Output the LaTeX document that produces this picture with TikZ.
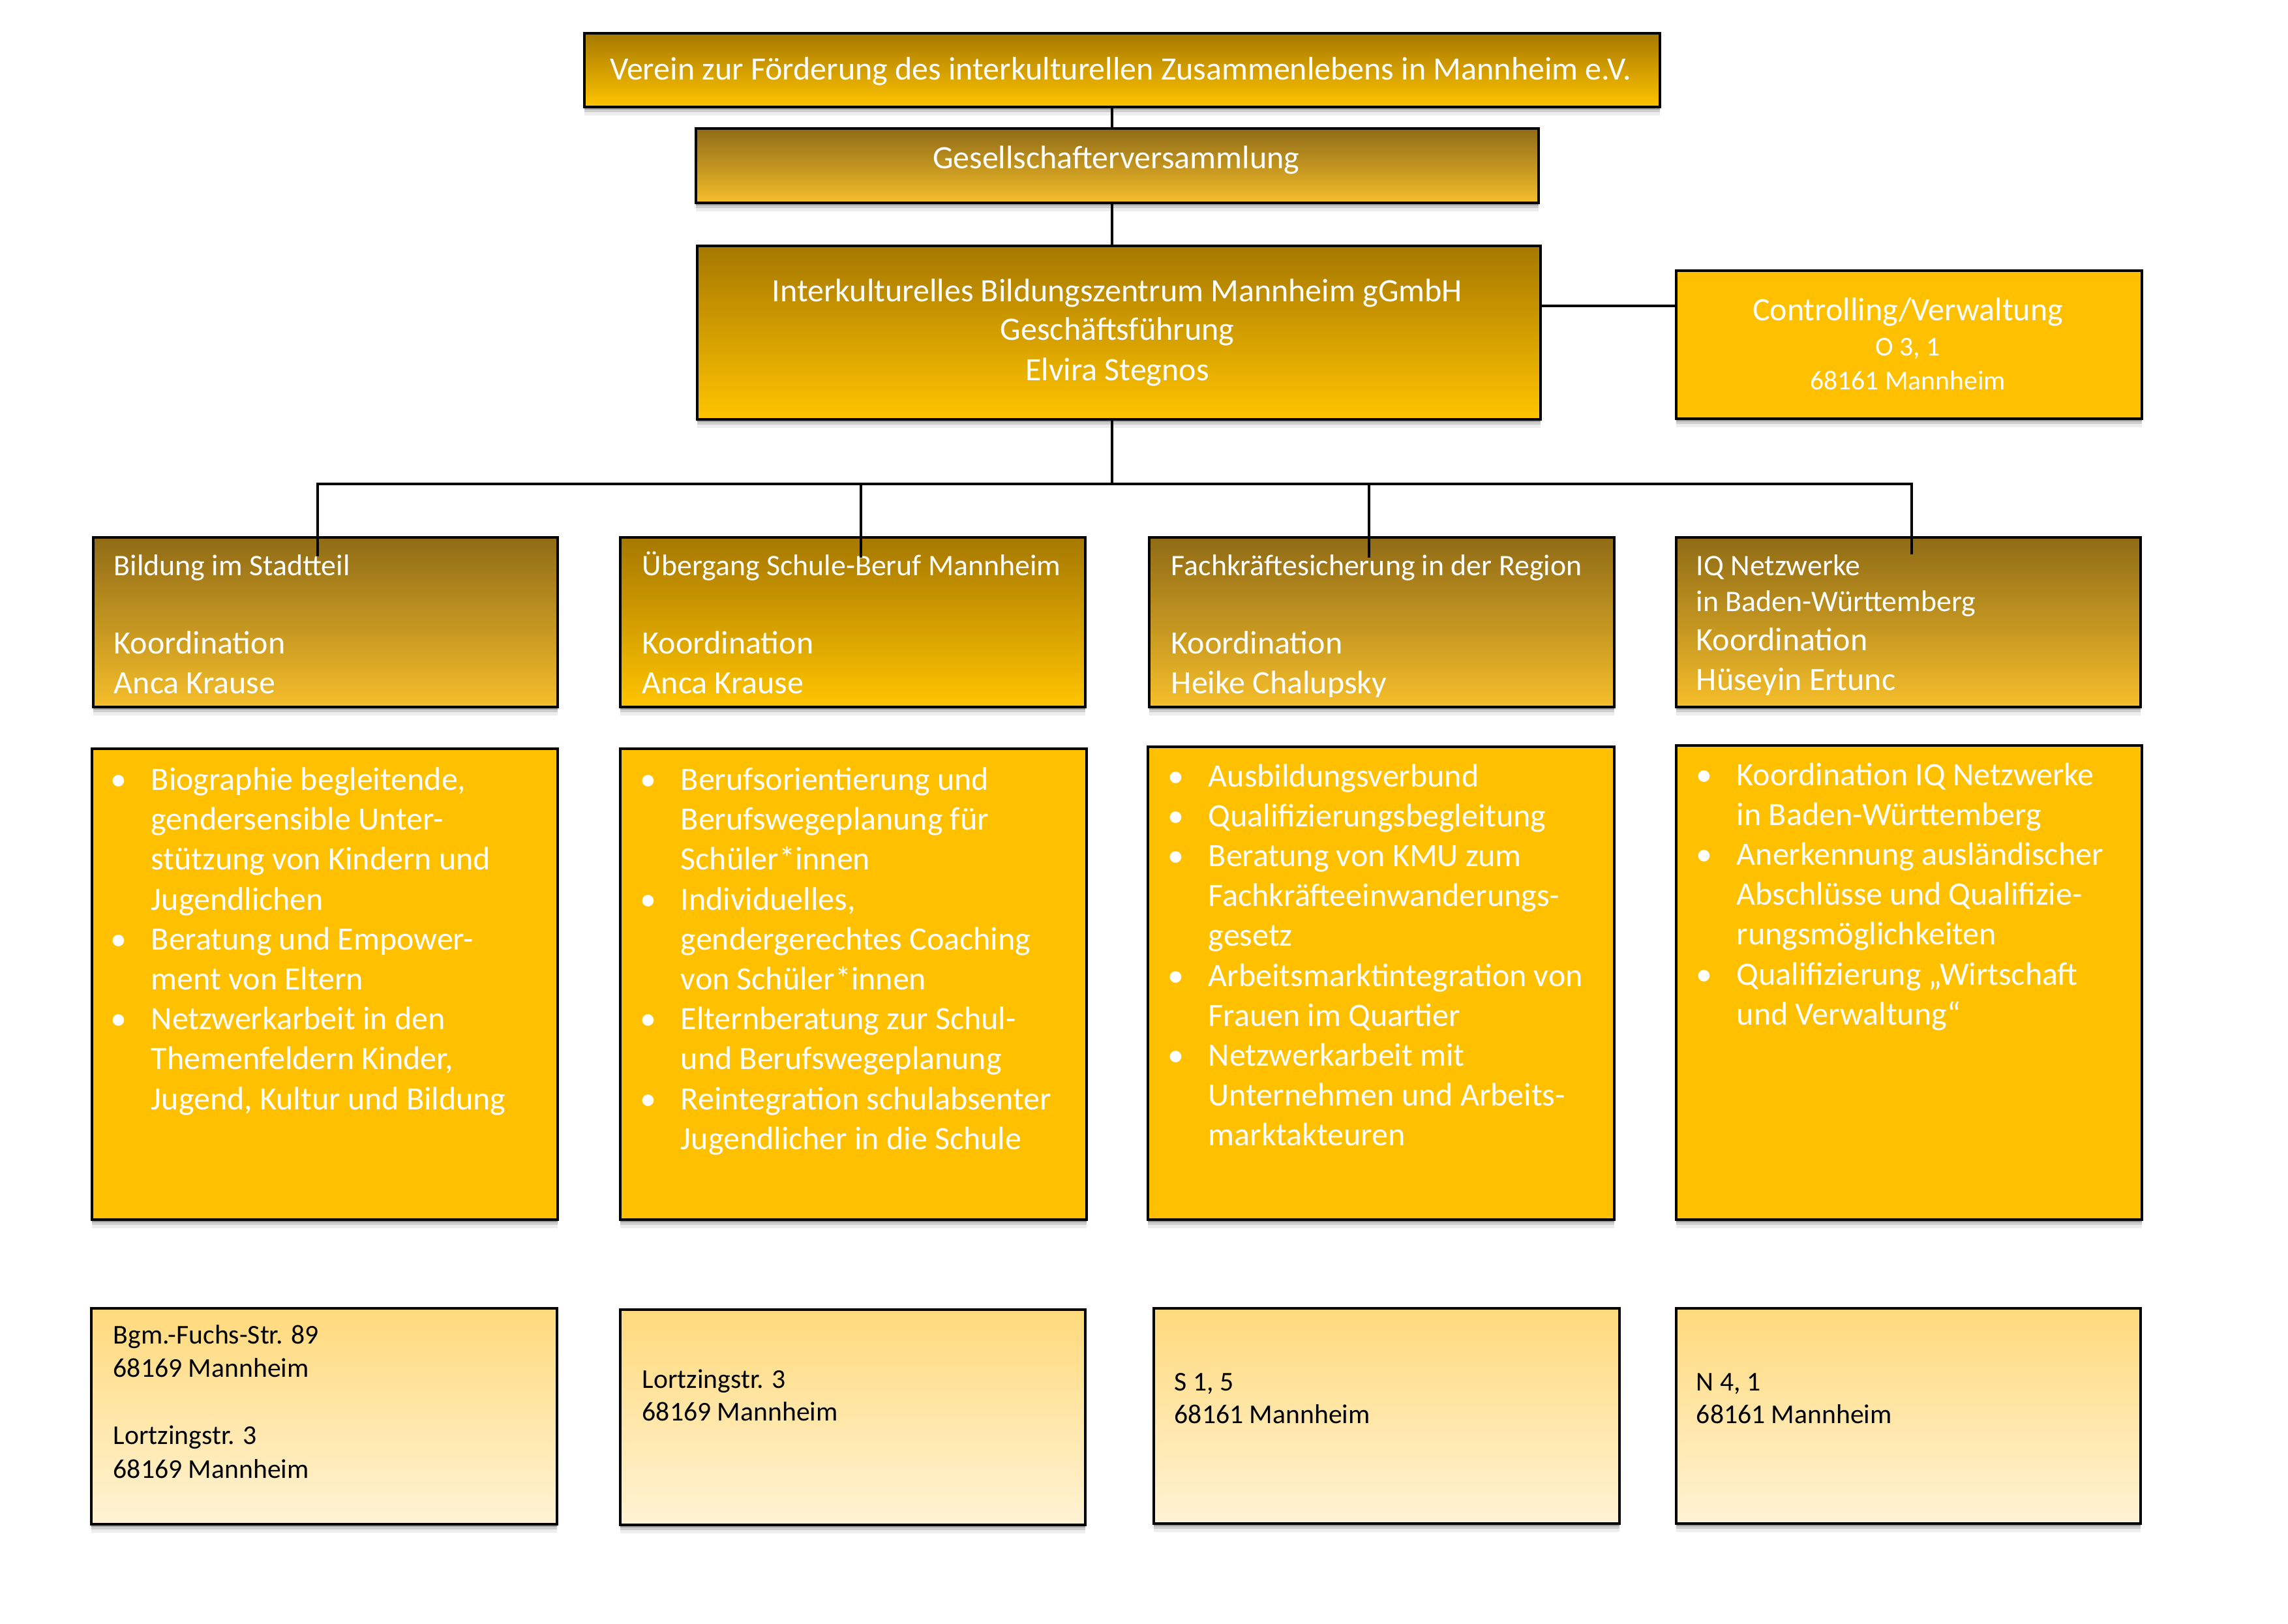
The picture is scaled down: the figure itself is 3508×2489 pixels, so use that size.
\documentclass[tikz,border=0pt]{standalone}
\usepackage{fontspec}
\setmainfont{Carlito}
\usetikzlibrary{shadows}
\definecolor{gold}{HTML}{FFC000}
\definecolor{darkA}{HTML}{8F6B15}
\definecolor{lightA}{HTML}{F5BE2B}
\definecolor{darkB}{HTML}{A67800}
\definecolor{lightB}{HTML}{FFC400}
\definecolor{addrTop}{HTML}{FFDA7C}
\definecolor{addrBot}{HTML}{FFF3D4}
\newcommand\fs[2]{\fontsize{#1}{#2}\selectfont}
\newcommand\mlines[2]{\vtop{\baselineskip=#1\relax\lineskiplimit=-10pt\halign{##\hfil\cr#2\crcr}}}
\newcommand\bul{\llap{\textbullet\hspace{9pt}}}
\newcommand\bx[6]{\node[box,#6,minimum width={(#4-#2)*0.24pt},minimum height={(#5-#3)*0.24pt}] (#1) at (#2,#3) {};}
\tikzset{
  softshadow/.style={
    drop shadow={shadow xshift=0pt,shadow yshift=-0.9pt,opacity=0.22,fill=black},
    drop shadow={shadow xshift=0pt,shadow yshift=-2.0pt,opacity=0.13,fill=black},
    drop shadow={shadow xshift=0pt,shadow yshift=-3.2pt,opacity=0.07,fill=black}},
  box/.style={draw=black,line width=1pt,inner sep=0pt,anchor=north west,softshadow},
  shadeA/.style={top color=darkA,bottom color=lightA},
  shadeB/.style={top color=darkB,bottom color=lightB},
  solid gold/.style={fill=gold},
  addr/.style={top color=addrTop,bottom color=addrBot},
  wtxt/.style={text=white,inner sep=0pt},
  btxt/.style={text=black,inner sep=0pt},
  conn/.style={draw=black,line width=1pt}
}
\begin{document}
\begin{tikzpicture}[x=0.24pt,y=-0.24pt]
\fill[white] (0,0) rectangle (3508,2489);
\useasboundingbox (0,0) rectangle (3508,2489);

% top boxes
\bx{T}{894}{49}{2543}{162}{shadeB}
\bx{G}{1065}{195}{2357}{309}{shadeA}
\bx{I}{1067}{375}{2360}{641}{shadeB}
\bx{C}{2568}{413}{3282}{640}{solid gold}

% header boxes
\bx{H1}{141}{822}{853}{1082}{shadeA}
\bx{H2}{949}{822}{1662}{1082}{shadeB}
\bx{H3}{1760}{822}{2473}{1082}{shadeA}
\bx{H4}{2568}{822}{3280}{1082}{shadeA}

% bullet boxes
\bx{B1}{139}{1146}{853}{1868}{solid gold}
\bx{B2}{949}{1146}{1664}{1868}{solid gold}
\bx{B3}{1758}{1143}{2473}{1868}{solid gold}
\bx{B4}{2568}{1141}{3282}{1868}{solid gold}

% address boxes
\bx{A1}{138}{2004}{852}{2335}{addr}
\bx{A2}{949}{2006}{1662}{2336}{addr}
\bx{A3}{1767}{2004}{2481}{2334}{addr}
\bx{A4}{2568}{2004}{3280}{2334}{addr}

% top texts
\node[wtxt,anchor=base,font=\fs{12}{14.6}] (tT) at (1718,123) {Verein zur Förderung des interkulturellen Zusammenlebens in Mannheim e.V.};
\node[wtxt,anchor=base,font=\fs{12}{14.6}] (tG) at (1711,259) {Gesellschafterversammlung};
\node[wtxt,anchor=base,font=\fs{12}{14.6}] (tI1) at (1713,462) {Interkulturelles Bildungszentrum Mannheim gGmbH};
\node[wtxt,anchor=base,font=\fs{12}{14.6}] (tI2) at (1713,522) {Geschäftsführung};
\node[wtxt,anchor=base,font=\fs{12}{14.6}] (tI3) at (1713,583) {Elvira Stegnos};
\node[wtxt,anchor=base,font=\fs{12}{14.6}] (tC1) at (2925,492) {Controlling/Verwaltung};
\node[wtxt,anchor=base,font=\fs{10}{12.2}] (tC2) at (2925,545) {O 3, 1};
\node[wtxt,anchor=base,font=\fs{10}{12.2}] (tC3) at (2925,597) {68161 Mannheim};

% header texts (clipped at inner bottom)
\begin{scope}
\clip (100,800) rectangle (3300,1068);
\node[wtxt,anchor=base west,font=\fs{11}{13.2}] (h1a) at (174,882) {Bildung im Stadtteil};
\node[wtxt,anchor=base west,font=\fs{12}{14.6}] (h1b) at (174,1002) {\mlines{14.64pt}{Koordination\cr Anca Krause}};
\node[wtxt,anchor=base west,font=\fs{11}{13.2}] (h2a) at (984,882) {Übergang Schule-Beruf Mannheim};
\node[wtxt,anchor=base west,font=\fs{12}{14.6}] (h2b) at (984,1002) {\mlines{14.64pt}{Koordination\cr Anca Krause}};
\node[wtxt,anchor=base west,font=\fs{11}{13.2}] (h3a) at (1795,882) {Fachkräftesicherung in der Region};
\node[wtxt,anchor=base west,font=\fs{12}{14.6}] (h3b) at (1795,1002) {\mlines{14.64pt}{Koordination\cr Heike Chalupsky}};
\node[wtxt,anchor=base west,font=\fs{11}{13.2}] (h4a) at (2600,882) {\mlines{13.2pt}{IQ Netzwerke\cr in Baden-Württemberg}};
\node[wtxt,anchor=base west,font=\fs{12}{14.6}] (h4b) at (2600,997) {\mlines{14.64pt}{Koordination\cr Hüseyin Ertunc}};
\end{scope}

% bullet texts
\node[wtxt,anchor=base west,font=\fs{12}{14.69}] (b1) at (231,1211.5) {\mlines{14.69pt}{%
\bul Biographie begleitende,\cr
gendersensible Unter-\cr
stützung von Kindern und\cr
Jugendlichen\cr
\bul Beratung und Empower-\cr
ment von Eltern\cr
\bul Netzwerkarbeit in den\cr
Themenfeldern Kinder,\cr
Jugend, Kultur und Bildung}};
\node[wtxt,anchor=base west,font=\fs{12}{14.69}] (b2) at (1043,1211.5) {\mlines{14.69pt}{%
\bul Berufsorientierung und\cr
Berufswegeplanung für\cr
Schüler*innen\cr
\bul Individuelles,\cr
gendergerechtes Coaching\cr
von Schüler*innen\cr
\bul Elternberatung zur Schul-\cr
und Berufswegeplanung\cr
\bul Reintegration schulabsenter\cr
Jugendlicher in die Schule}};
\node[wtxt,anchor=base west,font=\fs{12}{14.69}] (b3) at (1852,1206) {\mlines{14.69pt}{%
\bul Ausbildungsverbund\cr
\bul Qualifizierungsbegleitung\cr
\bul Beratung von KMU zum\cr
Fachkräfteeinwanderungs-\cr
gesetz\cr
\bul Arbeitsmarktintegration von\cr
Frauen im Quartier\cr
\bul Netzwerkarbeit mit\cr
Unternehmen und Arbeits-\cr
marktakteuren}};
\node[wtxt,anchor=base west,font=\fs{12}{14.69}] (b4) at (2662,1204) {\mlines{14.69pt}{%
\bul Koordination IQ Netzwerke\cr
in Baden-Württemberg\cr
\bul Anerkennung ausländischer\cr
Abschlüsse und Qualifizie-\cr
rungsmöglichkeiten\cr
\bul Qualifizierung „Wirtschaft\cr
und Verwaltung“}};

% address texts
\node[btxt,anchor=base west,font=\fs{10}{12.36}] (a1) at (173,2060) {\mlines{12.36pt}{Bgm.-Fuchs-Str. 89\cr 68169 Mannheim\cr \cr Lortzingstr. 3\cr 68169 Mannheim}};
\node[btxt,anchor=base west,font=\fs{10}{12.2}] (a2) at (984,2128) {\mlines{12.1pt}{Lortzingstr. 3\cr 68169 Mannheim}};
\node[btxt,anchor=base west,font=\fs{10}{12.2}] (a3) at (1800,2132) {\mlines{12.2pt}{S 1, 5\cr 68161 Mannheim}};
\node[btxt,anchor=base west,font=\fs{10}{12.2}] (a4) at (2600,2132) {\mlines{12.2pt}{N 4, 1\cr 68161 Mannheim}};

% connectors
\coordinate (v) at (1705,0);
\coordinate (bus) at (0,742);
\coordinate (cy) at (0,469);
\coordinate (d1) at (487,853);
\coordinate (d2) at (1320,855);
\coordinate (d3) at (2099,855);
\coordinate (d4) at (2931,850);
\draw[conn] (T.south -| v) -- (G.north -| v);
\draw[conn] (G.south -| v) -- (I.north -| v);
\draw[conn] (I.south -| v) -- (bus -| v);
\draw[conn] (I.east |- cy) -- (C.west |- cy);
\draw[conn,line cap=rect] (bus -| d1) -- (bus -| d4);
\draw[conn] (bus -| d1) -- (d1);
\draw[conn] (bus -| d2) -- (d2);
\draw[conn] (bus -| d3) -- (d3);
\draw[conn] (bus -| d4) -- (d4);
\end{tikzpicture}
\end{document}
